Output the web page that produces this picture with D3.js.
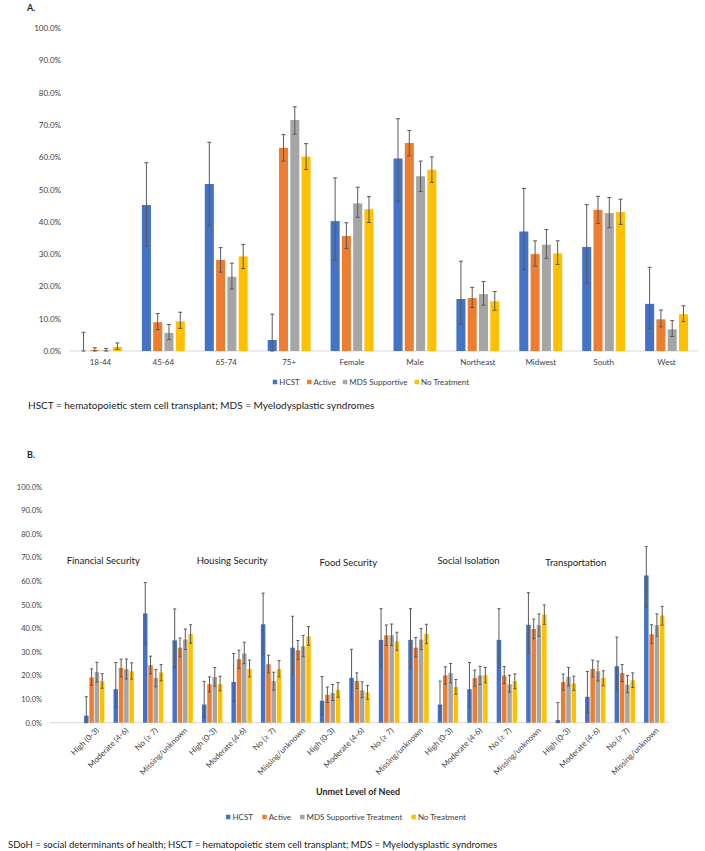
<!DOCTYPE html>
<html>
<head>
<meta charset="utf-8">
<script src="https://cdn.jsdelivr.net/npm/d3@7"></script>
<style>
body { margin: 0; background: #fff; }
svg text { font-family: Lato, "Liberation Sans", sans-serif; }
</style>
</head>
<body>
<script>

/*
 * Data (percent of patients, with 95% CI)
 */
var seriesNamesA = ['HCST', 'Active', 'MDS Supportive', 'No Treatment'];
var seriesNamesB = ['HCST', 'Active', 'MDS Supportive Treatment', 'No Treatment'];
var yTicks = [0, 10, 20, 30, 40, 50, 60, 70, 80, 90, 100];

// panel A: demographics
var demoCats = ['18-44', '45-64', '65-74', '75+', 'Female', 'Male', 'Northeast', 'Midwest', 'South', 'West'];
var hcstA   = [0, 45.2, 51.7, 3.4, 40.2, 59.6, 16.1, 37.0, 32.2, 14.6];
var hcstACI = [[0,5.8],[32.5,58.3],[38.7,64.6],[0,11.4],[28.1,53.6],[46.4,71.9],[8.3,27.8],[25.2,50.3],[21.0,45.3],[6.9,25.9]];
var activeA   = [0.3, 8.9, 28.2, 62.9, 35.6, 64.4, 16.4, 30.0, 43.7, 9.8];
var activeACI = [[0,1.0],[6.6,11.6],[24.4,32.0],[58.8,67.0],[31.7,39.7],[60.4,68.3],[13.5,19.7],[26.3,34.1],[39.5,47.9],[7.5,12.7]];
var mdsA   = [0.2, 5.6, 23.0, 71.5, 45.7, 54.1, 17.6, 32.9, 42.7, 6.7];
var mdsACI = [[0,0.8],[3.5,8.2],[19.2,27.2],[67.1,75.6],[41.4,50.7],[49.4,58.8],[14.2,21.5],[28.7,37.6],[38.2,47.5],[4.5,9.4]];
var noTxA   = [1.3, 9.2, 29.3, 60.2, 43.9, 56.1, 15.4, 30.2, 43.0, 11.4];
var noTxACI = [[0.5,2.5],[7.0,12.0],[25.5,33.0],[56.2,64.2],[39.8,47.8],[52.2,60.1],[12.6,18.4],[26.8,34.1],[39.2,47.0],[9.1,14.0]];

// panel B: SDoH domains x unmet level of need
var sdohDomains = ['Financial Security', 'Housing Security', 'Food Security', 'Social Isolation', 'Transportation'];
var needLevels = ['High (0-3)', 'Moderate (4-6)', 'No (\u2265 7)', 'Missing/unknown'];
var hcstB = [3.0, 14.2, 46.3, 34.9,  7.7, 17.3, 41.7, 31.8,  9.3, 19.0, 35.1, 35.1,  7.7, 14.2, 35.1, 41.5,  1.1, 11.0, 23.9, 62.4];
var hcstBCI = [[0,11.0],[6.5,25.5],[33.5,59.4],[23.4,48.2], [2.3,17.5],[9.0,29.3],[29.0,54.9],[20.4,45.1],
               [3.2,19.6],[9.9,31.1],[23.2,48.3],[23.2,48.3], [2.1,17.6],[6.5,25.5],[23.4,48.3],[29.3,55.1],
               [0,8.5],[4.4,21.7],[13.8,36.3],[49.0,74.6]];
var activeB = [19.2, 23.2, 24.4, 31.8,  16.3, 26.9, 24.8, 30.7,  11.8, 17.7, 37.0, 31.8,  20.0, 18.9, 20.0, 39.7,  17.2, 22.8, 21.0, 37.5];
var activeBCI = [[15.8,22.8],[19.4,26.9],[20.7,28.2],[27.9,35.9], [13.0,19.4],[23.0,30.7],[21.1,28.6],[26.8,34.8],
                 [8.6,15.1],[14.5,21.1],[32.7,41.4],[27.9,36.1], [16.3,23.7],[15.5,22.3],[16.6,23.8],[35.6,43.9],
                 [13.8,20.6],[19.4,26.5],[17.5,24.6],[33.5,41.5]];
var mdsB = [21.4, 22.7, 19.0, 35.2,  19.3, 29.3, 17.6, 32.4,  12.5, 13.7, 37.0, 35.2,  21.0, 20.0, 16.3, 41.3,  19.4, 21.8, 16.1, 41.3];
var mdsBCI = [[17.2,25.6],[18.5,27.0],[15.2,22.5],[31.0,39.7], [15.5,23.4],[25.0,34.1],[13.8,21.4],[28.0,37.0],
              [9.4,16.2],[10.6,17.3],[32.7,41.8],[31.0,39.9], [16.9,25.1],[16.2,23.9],[13.0,20.1],[36.6,46.1],
              [15.6,23.4],[17.7,26.1],[12.7,20.0],[36.6,46.1]];
var noTxB = [17.7, 21.8, 21.3, 37.6,  16.3, 22.7, 22.7, 36.6,  13.8, 12.8, 34.4, 37.6,  15.1, 20.1, 17.6, 45.8,  16.6, 18.9, 18.0, 45.4];
var noTxBCI = [[14.6,20.8],[18.5,25.4],[17.7,24.6],[33.7,41.5], [13.5,19.7],[19.4,26.5],[19.4,26.3],[32.8,40.7],
               [10.8,17.0],[9.9,15.8],[30.7,38.3],[33.5,41.7], [12.1,18.3],[16.9,23.4],[14.4,20.7],[41.7,49.9],
               [13.7,19.7],[15.6,22.0],[14.9,21.1],[41.3,49.3]];

var colors = ['#4472C4', '#ED7D31', '#A5A5A5', '#FFC000'];
var textColor = '#404040';

var svg = d3.select('body').append('svg:svg')
            .attr('width', 705)
            .attr('height', 851);

/**
 * Draw one clustered bar panel with error bars.
 * opt holds the geometry, series holds [values, ci] per series.
 */
function drawPanel(opt, series)
{
    var g = svg.append('svg:g').attr('class', 'panel');
    var n = series[0][0].length;

    var y = d3.scaleLinear().domain([0, 100]).range([opt.yBase, opt.yTop]);
    var x = d3.scaleBand().domain(d3.range(n)).range([opt.x0, opt.x1]);
    var inner = d3.scaleBand().domain(d3.range(series.length))
                    .range([-opt.groupW/2, opt.groupW/2])
                    .paddingInner(opt.barGap);

    // y tick labels only, no gridlines
    var yAxis = d3.axisLeft(y)
                    .tickValues(yTicks)
                    .tickSize(0)
                    .tickPadding(0)
                    .tickFormat(function(d) { return d.toFixed(1) + '%'; });
    var ya = g.append('svg:g')
                .attr('transform', 'translate(' + opt.yLabelX + ',0)')
                .call(yAxis);
    ya.select('.domain').remove();
    ya.selectAll('text')
        .attr('font-size', opt.yFont)
        .attr('font-family', 'Lato, "Liberation Sans", sans-serif')
        .attr('fill', textColor);

    // baseline
    g.append('svg:line')
        .attr('x1', opt.axisStart).attr('x2', opt.x1)
        .attr('y1', y(0)).attr('y2', y(0))
        .attr('stroke', '#d9d9d9')
        .attr('stroke-width', 1);

    // bars
    series.forEach(function(s, si) {
        var vals = s[0], ci = s[1];
        var sg = g.append('svg:g').attr('fill', colors[si]);
        sg.selectAll('rect')
            .data(vals)
            .enter().append('svg:rect')
                .attr('x', function(d, i) { return x(i) + x.bandwidth()/2 + inner(si); })
                .attr('width', inner.bandwidth())
                .attr('y', function(d) { return y(d); })
                .attr('height', function(d) { return y(0) - y(d); });

        // error bars
        var eg = g.append('svg:g')
                    .attr('stroke', '#595959')
                    .attr('stroke-width', 1);
        ci.forEach(function(c, i) {
            var cx = x(i) + x.bandwidth()/2 + inner(si) + inner.bandwidth()/2;
            eg.append('svg:line')
                .attr('x1', cx).attr('x2', cx)
                .attr('y1', y(c[0])).attr('y2', y(c[1]));
            [c[0], c[1]].forEach(function(v) {
                eg.append('svg:line')
                    .attr('x1', cx - opt.capW/2).attr('x2', cx + opt.capW/2)
                    .attr('y1', y(v)).attr('y2', y(v));
            });
        });
    });

    // legend, centred on opt.legendX
    var lg = g.append('svg:g').attr('font-size', opt.legendFont).attr('fill', textColor);
    var items = lg.selectAll('g.item')
                    .data(opt.names)
                    .enter().append('svg:g').attr('class', 'item');
    items.append('svg:rect')
        .attr('width', opt.legendSq).attr('height', opt.legendSq)
        .attr('y', opt.legendY - opt.legendSq/2)
        .attr('fill', function(d, i) { return colors[i]; });
    items.append('svg:text')
        .attr('x', opt.legendSq + 2)
        .attr('y', opt.legendY)
        .attr('dy', '0.35em')
        .text(function(d) { return d; });
    var widths = [];
    items.each(function() { widths.push(this.getBBox().width); });
    var total = d3.sum(widths) + opt.legendSpacing * (widths.length - 1);
    var offset = opt.legendX - total/2;
    items.attr('transform', function(d, i) {
        var tx = offset;
        offset += widths[i] + opt.legendSpacing;
        return 'translate(' + tx + ',0)';
    });

    return {x: x, y: y, g: g};
}

/*
 * Panel A
 */
svg.append('svg:text')
    .attr('x', 27).attr('y', 11)
    .attr('font-size', 9).attr('font-weight', 'bold').attr('fill', '#262626')
    .text('A.');

var pa = drawPanel({
    x0: 69, x1: 698, axisStart: 69,
    yBase: 351, yTop: 28,
    yLabelX: 61, yFont: 8,
    groupW: 42.9, barGap: 0.2, capW: 4,
    names: seriesNamesA,
    legendX: 371, legendY: 382, legendSq: 4.5, legendFont: 8, legendSpacing: 7
}, [[hcstA, hcstACI], [activeA, activeACI], [mdsA, mdsACI], [noTxA, noTxACI]]);

pa.g.append('svg:g').selectAll('text')
    .data(demoCats)
    .enter().append('svg:text')
        .attr('x', function(d, i) { return pa.x(i) + pa.x.bandwidth()/2; })
        .attr('y', 365)
        .attr('text-anchor', 'middle')
        .attr('font-size', 8)
        .attr('fill', textColor)
        .text(function(d) { return d; });

svg.append('svg:text')
    .attr('x', 28).attr('y', 409)
    .attr('font-size', 10).attr('fill', '#1a1a1a')
    .text('HSCT = hematopoietic stem cell transplant; MDS = Myelodysplastic syndromes');

/*
 * Panel B
 */
svg.append('svg:text')
    .attr('x', 27).attr('y', 458)
    .attr('font-size', 9).attr('font-weight', 'bold').attr('fill', '#262626')
    .text('B.');

var pb = drawPanel({
    x0: 79.5, x1: 669, axisStart: 50,
    yBase: 722.7, yTop: 486.7,
    yLabelX: 42, yFont: 7.5,
    groupW: 20.4, barGap: 0.15, capW: 3,
    names: seriesNamesB,
    legendX: 346, legendY: 817, legendSq: 4.5, legendFont: 8, legendSpacing: 9
}, [[hcstB, hcstBCI], [activeB, activeBCI], [mdsB, mdsBCI], [noTxB, noTxBCI]]);

// rotated need-level labels, repeated per domain
var bCats = d3.range(sdohDomains.length * needLevels.length);
pb.g.append('svg:g').selectAll('text')
    .data(bCats)
    .enter().append('svg:text')
        .attr('transform', function(d) {
            return 'translate(' + (pb.x(d) + pb.x.bandwidth()/2 + 3) + ',729) rotate(-45)';
        })
        .attr('text-anchor', 'end')
        .attr('dy', '0.35em')
        .attr('font-size', 8)
        .attr('fill', textColor)
        .text(function(d) { return needLevels[d % needLevels.length]; });

// domain titles sit inside the plot, a little left of each cluster
var titleDx = [-27.5, -15.5, -10.5, -10.5, -20.5];
var titleY = [564, 564, 566, 564, 566];
pb.g.append('svg:g').selectAll('text')
    .data(sdohDomains)
    .enter().append('svg:text')
        .attr('x', function(d, i) { return pb.x(i * needLevels.length) + pb.x.bandwidth()/2 + titleDx[i]; })
        .attr('y', function(d, i) { return titleY[i]; })
        .attr('font-size', 9.5)
        .attr('fill', '#1a1a1a')
        .text(function(d) { return d; });

svg.append('svg:text')
    .attr('x', 358).attr('y', 795)
    .attr('text-anchor', 'middle')
    .attr('font-size', 9).attr('font-weight', 'bold').attr('fill', '#262626')
    .text('Unmet Level of Need');

svg.append('svg:text')
    .attr('x', 8).attr('y', 848)
    .attr('font-size', 9.5).attr('fill', '#1a1a1a')
    .text('SDoH = social determinants of health; HSCT = hematopoietic stem cell transplant; MDS = Myelodysplastic syndromes');

</script>
</body>
</html>
